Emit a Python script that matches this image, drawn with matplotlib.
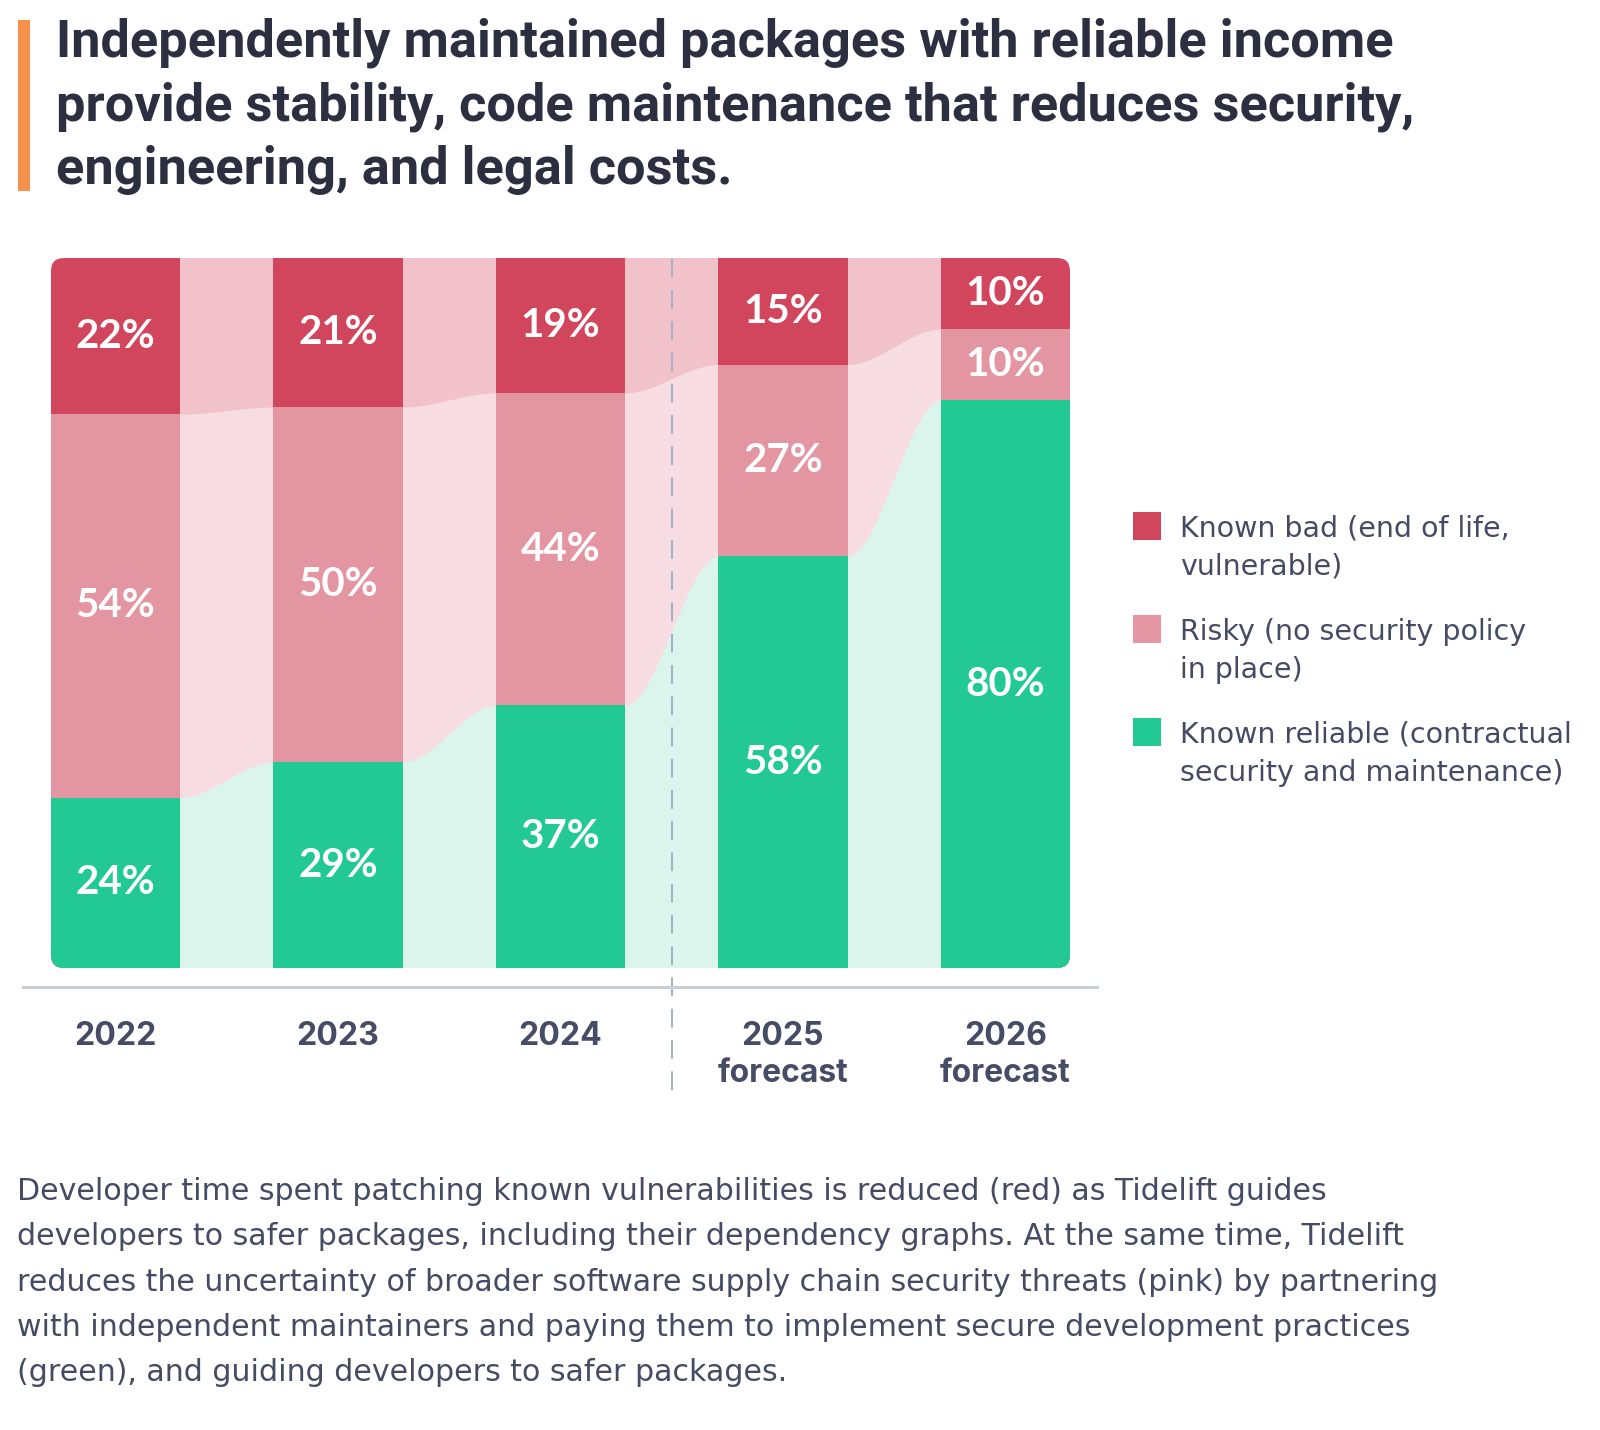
import numpy as np
import matplotlib.pyplot as plt
from matplotlib.patches import FancyBboxPatch, Rectangle
from matplotlib.lines import Line2D
import matplotlib.transforms as mtransforms

# DATOS ====================================================================
years = ['2022', '2023', '2024', '2025', '2026']
sub_labels = ['', '', '', 'forecast', 'forecast']
known_bad = [22, 21, 19, 15, 10]
risky = [54, 50, 44, 27, 10]
reliable = [24, 29, 37, 58, 80]

legend_lines = [['Known bad (end of life,', 'vulnerable)'],
                ['Risky (no security policy', 'in place)'],
                ['Known reliable (contractual', 'security and maintenance)']]

title_lines = ['Independently maintained packages with reliable income',
               'provide stability, code maintenance that reduces security,',
               'engineering, and legal costs.']

caption_lines = ['Developer time spent patching known vulnerabilities is reduced (red) as Tidelift guides',
                 'developers to safer packages, including their dependency graphs. At the same time, Tidelift',
                 'reduces the uncertainty of broader software supply chain security threats (pink) by partnering',
                 'with independent maintainers and paying them to implement secure development practices',
                 '(green), and guiding developers to safer packages.']

# colores
c_bad, c_risky, c_rel = '#d1465c', '#e495a2', '#22c993'
f_bad, f_risky, f_rel = '#f2c2ca', '#f7dde2', '#dcf5ec'
c_title = '#2b2f40'; c_lab = '#474c66'; c_txt = '#454b63'

W, H = 1600, 1430
fig = plt.figure(figsize=(16, 14.3), dpi=100)
fx = lambda px: px / W
fy = lambda py: 1 - py / H

# GRAFICO =================================================================
ax = fig.add_axes([fx(51), fy(968), fx(1070) - fx(51), fy(258) - fy(968)])
bw = 0.58
x = np.arange(len(years))
ax.set_xlim(-bw / 2, x[-1] + bw / 2)
ax.set_ylim(0, 100)
ax.axis('off')

sx = (1070 - 51) / (x[-1] + bw)   # px por unidad en x
sy = (968 - 258) / 100.            # px por unidad en y
r = 13
clip = FancyBboxPatch((-bw / 2, 0), x[-1] + bw, 100,
                      boxstyle='round,pad=0,rounding_size=%f' % (r / sx),
                      mutation_aspect=sx / sy, fc='none', ec='none',
                      transform=ax.transData)
ax.add_patch(clip)

rel = np.array(reliable, float)
mid = rel + np.array(risky)
tot = mid + np.array(known_bad)

# flujos entre barras (curva suave en el hueco)
for i in range(len(x) - 1):
    xs = np.linspace(x[i], x[i + 1], 300)
    t = np.clip((xs - (x[i] + bw / 2)) / (1 - bw), 0, 1)
    s = t * t * (3 - 2 * t)
    g = rel[i] + (rel[i + 1] - rel[i]) * s
    b = mid[i] + (mid[i + 1] - mid[i]) * s
    for hi, c in [(np.full_like(xs, 100), f_bad), (b, f_risky), (g, f_rel)]:
        pc = ax.fill_between(xs, 0, hi, color=c, lw=0)
        pc.set_clip_path(clip)

# barras apiladas
for vals, c in [(tot, c_bad), (mid, c_risky), (rel, c_rel)]:
    bars = ax.bar(x, vals, bw, color=c, lw=0)
    for p in bars:
        p.set_clip_path(clip)

# etiquetas de porcentaje
for i in range(len(x)):
    for lo, v in [(0, reliable[i]), (rel[i], risky[i]), (mid[i], known_bad[i])]:
        ax.text(x[i], lo + v / 2, '%d%%' % v, ha='center', va='center',
                color='white', fontsize=29, fontweight='bold', family='Lato')

# separador real / forecast
xsep = (x[2] + x[3]) / 2
ax.plot([xsep, xsep], [-(1090 - 968) / sy, 100 + (258 - 250) / sy],
        color='#a5b1c6', lw=1.5, ls=(0, (9, 6)), clip_on=False, zorder=5)

# eje
fig.add_artist(Line2D([fx(23), fx(1097)], [fy(987)] * 2, color='#c8cdd8', lw=2.2))

trans = mtransforms.blended_transform_factory(ax.transData, fig.transFigure)
for i in range(len(x)):
    ax.text(x[i], fy(1045), years[i], transform=trans, ha='center', va='baseline',
            color=c_lab, fontsize=23, fontweight='bold', family='Inter')
    if sub_labels[i]:
        ax.text(x[i], fy(1082), sub_labels[i], transform=trans, ha='center',
                va='baseline', color=c_lab, fontsize=23, fontweight='bold', family='Inter')

# leyenda
for k, (lines, c) in enumerate(zip(legend_lines, [c_bad, c_risky, c_rel])):
    y0 = 537 + k * 103
    fig.add_artist(Rectangle((fx(1133), fy(y0 + 3)), 28 / W, 28 / H,
                             transform=fig.transFigure, color=c, lw=0))
    for j, ln in enumerate(lines):
        fig.text(fx(1180), fy(y0 + 38 * j), ln, ha='left', va='baseline',
                 color=c_txt, fontsize=20.5, family='DejaVu Sans')

# titulo
fig.add_artist(Rectangle((fx(18), fy(191)), 12 / W, 171 / H,
                         transform=fig.transFigure, color='#f5914b', lw=0))
for j, ln in enumerate(title_lines):
    fig.text(fx(56), fy(56 + 64 * j), ln, ha='left', va='baseline',
             color=c_title, fontsize=37.7, fontweight='bold', family='Roboto')

# texto inferior
for j, ln in enumerate(caption_lines):
    fig.text(fx(17), fy(1200 + 45.3 * j), ln, ha='left', va='baseline',
             color=c_txt, fontsize=21.6, family='DejaVu Sans')

fig.savefig('out.png', dpi=100, facecolor='white')
